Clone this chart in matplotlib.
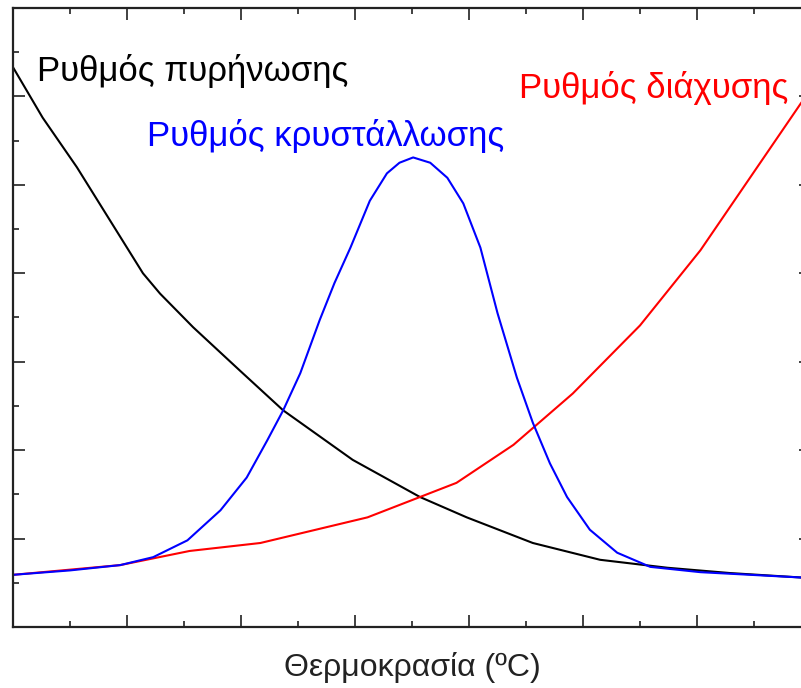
import numpy as np
import matplotlib.pyplot as plt
from matplotlib.ticker import MultipleLocator

plt.rcParams['font.family'] = ['Liberation Sans', 'DejaVu Sans']

# nucleation rate
x_nuc = [0.00, 0.26, 0.56, 0.85, 1.14, 1.29, 1.58, 1.99, 2.37, 2.98,
         3.57, 3.98, 4.56, 5.15, 5.74, 6.29, 6.91, 7.00]
y_nuc = [6.33, 5.76, 5.20, 4.60, 4.00, 3.77, 3.39, 2.90, 2.45, 1.89,
         1.47, 1.24, 0.95, 0.76, 0.67, 0.61, 0.56, 0.55]

# diffusion rate
x_dif = [0.00, 0.94, 1.55, 2.17, 3.11, 3.89, 4.39, 4.91, 5.50, 6.03, 6.91, 7.00]
y_dif = [0.59, 0.70, 0.86, 0.95, 1.24, 1.63, 2.06, 2.64, 3.41, 4.26, 5.92, 6.08]

# crystallization rate
x_cry = [0.00, 0.50, 0.94, 1.23, 1.53, 1.82, 2.05, 2.23, 2.37, 2.52,
         2.69, 2.82, 2.96, 3.13, 3.28, 3.39, 3.51, 3.66, 3.81, 3.95,
         4.10, 4.25, 4.42, 4.56, 4.71, 4.86, 5.06, 5.30, 5.59, 6.03,
         6.91, 7.00]
y_cry = [0.59, 0.64, 0.70, 0.79, 0.98, 1.32, 1.69, 2.11, 2.45, 2.87,
         3.47, 3.89, 4.29, 4.82, 5.13, 5.25, 5.31, 5.25, 5.08, 4.79,
         4.29, 3.55, 2.82, 2.31, 1.85, 1.47, 1.10, 0.84, 0.68, 0.62,
         0.56, 0.55]

fig = plt.figure(figsize=(8.01, 6.88), dpi=100)
ax = fig.add_axes([13/801, 61/688, 798/801, 619/688])

ax.plot(x_nuc, y_nuc, color='black', lw=1.5, solid_joinstyle='round')
ax.plot(x_dif, y_dif, color='red', lw=1.5, solid_joinstyle='round')
ax.plot(x_cry, y_cry, color='blue', lw=1.5, solid_joinstyle='round')

ax.text(0.21, 6.29, 'Ρυθμός πυρήνωσης', color='black', fontsize=25, va='center')
ax.text(1.175, 5.55, 'Ρυθμός κρυστάλλωσης', color='blue', fontsize=25, va='center')
ax.text(4.44, 6.10, 'Ρυθμός διάχυσης', color='red', fontsize=25, va='center')

ax.set_xlim(0, 7)
ax.set_ylim(0, 7)
ax.xaxis.set_major_locator(MultipleLocator(1))
ax.xaxis.set_minor_locator(MultipleLocator(0.5))
ax.yaxis.set_major_locator(MultipleLocator(1))
ax.yaxis.set_minor_locator(MultipleLocator(0.5))
ax.tick_params(which='both', direction='in', top=True, right=True,
               labelbottom=False, labelleft=False, color='#333333', width=1.3)
ax.tick_params(which='major', length=8.6)
ax.tick_params(which='minor', length=4.5)
for s in ax.spines.values():
    s.set_linewidth(1.6)
    s.set_color('#222222')

ax.set_xlabel('Θερμοκρασία (ºC)', fontsize=23, color='#222222', labelpad=18)

fig.savefig('out.png', dpi=100)
